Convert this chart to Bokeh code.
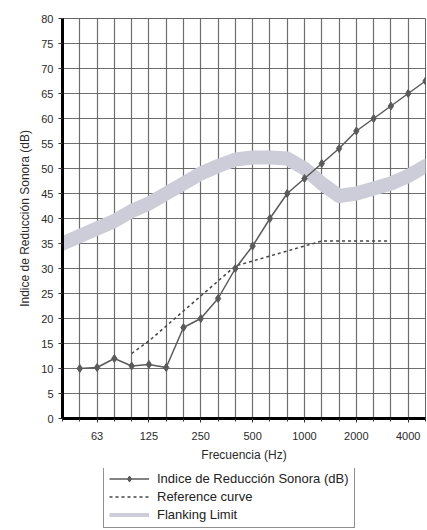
from bokeh.plotting import figure
from bokeh.models import Range1d, FixedTicker, Legend, LegendItem
from bokeh.layouts import column
from bokeh.embed import file_html
from bokeh.resources import INLINE

# Third-octave bands (x index 0..21)
bands = [40, 50, 63, 80, 100, 125, 160, 200, 250, 315, 400, 500, 630, 800,
         1000, 1250, 1600, 2000, 2500, 3150, 4000, 5000]
tick_labels = ["63", "125", "250", "500", "1000", "2000", "4000"]
tick_bands = [63, 125, 250, 500, 1000, 2000, 4000]

# Measured sound reduction index, 50 Hz .. 5000 Hz
meas_bands = [50, 63, 80, 100, 125, 160, 200, 250, 315, 400, 500, 630, 800,
              1000, 1250, 1600, 2000, 2500, 3150, 4000, 5000]
meas_vals = [10, 10.2, 12, 10.5, 10.8, 10.2, 18.2, 20, 24, 30, 34.5, 40, 45,
             48, 51, 54, 57.5, 60, 62.5, 65, 67.5]

# Reference curve, 100 Hz .. 3150 Hz
ref_bands = [100, 125, 160, 200, 250, 315, 400, 500, 630, 800, 1000, 1250,
             1600, 2000, 2500, 3150]
ref_vals = [13, 15.5, 18.5, 21.5, 24.5, 27.5, 30.5, 31.5, 32.5, 33.5, 34.5,
            35.5, 35.5, 35.5, 35.5, 35.5]

# Flanking limit, 40 Hz .. 5000 Hz
flank_bands = bands
flank_vals = [35, 36.5, 38, 39.5, 41.5, 43, 45, 47, 49, 50.5, 51.8, 52.2,
              52.2, 52, 50, 47, 44.5, 45, 46, 47, 48.5, 50.5]

labels = ["Indice de Reducción Sonora (dB)", "Reference curve", "Flanking Limit"]

idx = {b: i for i, b in enumerate(bands)}
mx = [idx[b] for b in meas_bands]
rx = [idx[b] for b in ref_bands]
fx = [idx[b] for b in flank_bands]

FONT = "Liberation Sans"
MEAS_C = "#5a5a5a"
REF_C = "#444444"
FLANK_C = "#cdcdda"

p = figure(width=427, height=468, output_backend="svg", toolbar_location=None,
           x_range=Range1d(0, 21), y_range=Range1d(0, 80),
           min_border_left=62, min_border_right=2, min_border_top=18,
           min_border_bottom=50)
p.background_fill_color = "white"
p.border_fill_color = "white"
p.outline_line_color = "#666666"
p.outline_line_width = 1

# axes
p.xaxis.ticker = FixedTicker(ticks=[idx[b] for b in tick_bands],
                             minor_ticks=list(range(0, 22)))
p.xaxis.major_label_overrides = {idx[b]: t for b, t in zip(tick_bands, tick_labels)}
p.yaxis.ticker = FixedTicker(ticks=list(range(0, 81, 5)))
for ax in (p.xaxis, p.yaxis):
    ax.axis_line_width = 3
    ax.axis_line_color = "black"
    ax.major_tick_in = 0
    ax.major_tick_out = 4
    ax.minor_tick_in = 0
    ax.minor_tick_out = 3
    ax.major_tick_line_color = "#333333"
    ax.minor_tick_line_color = "#333333"
    ax.major_label_text_font = FONT
    ax.major_label_text_font_size = "11px"
    ax.major_label_text_color = "#2a2a2a"
    ax.axis_label_text_font = FONT
    ax.axis_label_text_font_size = "12px"
    ax.axis_label_text_font_style = "normal"
    ax.axis_label_text_color = "#2a2a2a"
p.xaxis.axis_label = "Frecuencia (Hz)"
p.yaxis.axis_label = labels[0]
p.xaxis.major_label_standoff = 9
p.xaxis.axis_label_standoff = 5
p.yaxis.major_label_standoff = 5
p.yaxis.axis_label_standoff = 6

# grid
p.xgrid.ticker = FixedTicker(ticks=list(range(0, 22)))
p.ygrid.ticker = FixedTicker(ticks=list(range(0, 81, 5)))
for g in (p.xgrid, p.ygrid):
    g.grid_line_color = "#555555"
    g.grid_line_width = 1.2
    g.grid_line_alpha = 0.85

# flanking band
p.line(fx, flank_vals, line_color=FLANK_C, line_width=14, line_cap="round",
       line_join="round")
# reference curve
p.line(rx, ref_vals, line_color=REF_C, line_width=1.5, line_dash="3 3")
# measured
p.line(mx, meas_vals, line_color=MEAS_C, line_width=1.5)
p.scatter(mx, meas_vals, marker="diamond", size=8, fill_color=MEAS_C,
          line_color=MEAS_C)

# legend panel below the chart (proxy renderers sit outside the visible range)
lg = figure(width=427, height=62, output_backend="svg", toolbar_location=None,
            x_range=Range1d(0, 1), y_range=Range1d(0, 1),
            min_border_left=0, min_border_right=0, min_border_top=0,
            min_border_bottom=0)
lg.axis.visible = False
lg.grid.visible = False
lg.outline_line_color = None
lg.background_fill_color = "white"
lg.border_fill_color = "white"
r1 = lg.line([5, 6], [5, 5], line_color=MEAS_C, line_width=1.5)
r1m = lg.scatter([5], [5], marker="diamond", size=8, fill_color=MEAS_C, line_color=MEAS_C)
r2 = lg.line([5, 6], [5, 5], line_color=REF_C, line_width=1.5, line_dash="3 3")
r3 = lg.line([5, 6], [5, 5], line_color=FLANK_C, line_width=4)

legend = Legend(items=[
    LegendItem(label=labels[0], renderers=[r1, r1m]),
    LegendItem(label=labels[1], renderers=[r2]),
    LegendItem(label=labels[2], renderers=[r3]),
], location=(41, 2), orientation="vertical")
legend.label_text_font = FONT
legend.label_text_font_size = "13px"
legend.label_text_color = "#222222"
legend.glyph_width = 40
legend.glyph_height = 15
legend.label_height = 15
legend.label_standoff = 8
legend.spacing = 3
legend.padding = 5
legend.margin = 0
legend.border_line_color = "#222222"
legend.border_line_width = 1.5
legend.background_fill_alpha = 1
lg.add_layout(legend, "center")

layout = column(p, lg, spacing=0)
open("out.html", "w").write(file_html(layout, INLINE))
